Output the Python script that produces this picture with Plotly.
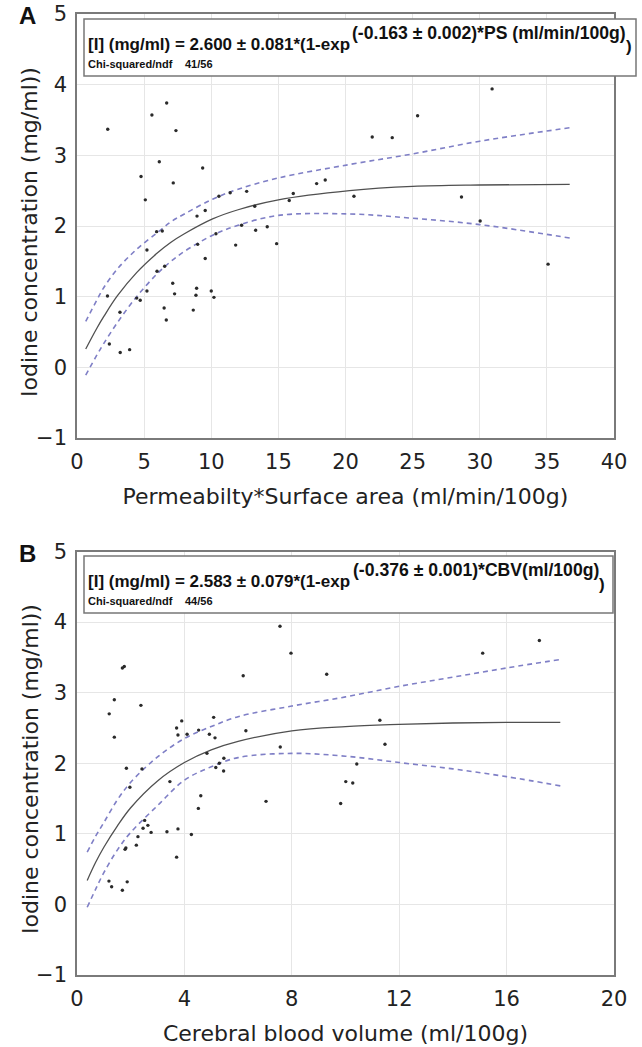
import plotly.graph_objects as go

# ---------------- Panel A data ----------------
ps_x = [2.29, 6.68, 5.58, 7.37, 6.13, 9.36, 4.77, 7.17, 5.09, 10.57, 11.41, 12.64, 13.24, 15.81, 16.11,
        17.85, 18.49, 8.94, 9.55, 5.93, 6.35, 12.26, 13.31, 14.17, 10.35, 8.99, 11.82, 14.87, 5.21, 9.55,
        6.53, 5.96, 7.13, 7.27, 8.91, 8.86, 10.0, 10.2, 5.21, 2.27, 4.45, 4.71, 6.49, 8.66, 6.65, 3.20,
        2.41, 3.22, 3.92, 21.99, 23.48, 25.37, 30.92, 20.63, 28.64, 30.03, 35.09]
ps_iodine = [3.37, 3.74, 3.57, 3.35, 2.91, 2.82, 2.70, 2.61, 2.37, 2.42, 2.47, 2.49, 2.28, 2.36, 2.46,
             2.60, 2.65, 2.14, 2.22, 1.92, 1.93, 2.01, 1.94, 1.99, 1.89, 1.74, 1.73, 1.75, 1.66, 1.54,
             1.43, 1.36, 1.19, 1.04, 1.12, 1.02, 1.08, 0.99, 1.08, 1.01, 0.98, 0.95, 0.84, 0.81, 0.67, 0.78,
             0.33, 0.21, 0.25, 3.26, 3.25, 3.56, 3.94, 2.42, 2.41, 2.07, 1.46]
fitA_x = [0.65, 1.5, 2, 3, 4.44, 6, 7, 8, 10.1, 12, 15, 20.3, 25, 30, 36.7]
fitA_y = [0.26, 0.56, 0.72, 1.01, 1.34, 1.62, 1.77, 1.89, 2.10, 2.23, 2.37, 2.50, 2.56, 2.58, 2.59]
upA_y = [0.65, 0.96, 1.13, 1.39, 1.67, 1.91, 2.06, 2.17, 2.38, 2.52, 2.68, 2.87, 3.02, 3.20, 3.39]
loA_y = [-0.11, 0.18, 0.34, 0.63, 1.00, 1.33, 1.50, 1.64, 1.87, 2.01, 2.15, 2.17, 2.11, 2.02, 1.83]

# ---------------- Panel B data ----------------
cbv_x = [7.56, 7.97, 6.19, 9.30, 1.69, 1.76, 1.39, 2.38, 1.20, 1.39, 3.90, 3.71, 3.76, 4.10, 4.53,
         5.09, 4.93, 5.14, 6.29, 4.84, 5.47, 5.30, 5.17, 5.46, 7.57, 1.84, 2.42, 1.97, 3.46, 4.61,
         4.52, 7.04, 10.01, 9.82, 2.52, 2.64, 2.76, 2.27, 3.35, 3.76, 4.26, 2.21, 2.46, 1.82, 1.79,
         3.71, 1.19, 1.29, 1.69, 1.87, 15.11, 17.22, 11.28, 11.47, 10.42, 10.27]
cbv_iodine = [3.94, 3.56, 3.24, 3.26, 3.35, 3.37, 2.90, 2.82, 2.70, 2.37, 2.60, 2.50, 2.40, 2.41, 2.47,
              2.65, 2.41, 2.36, 2.46, 2.14, 2.07, 2.00, 1.94, 1.89, 2.23, 1.93, 1.92, 1.66, 1.74, 1.54,
              1.36, 1.46, 1.74, 1.43, 1.19, 1.12, 1.02, 0.96, 1.03, 1.07, 0.99, 0.84, 1.08, 0.80, 0.78,
              0.67, 0.33, 0.25, 0.20, 0.32, 3.56, 3.74, 2.61, 2.27, 1.99, 1.72]
fitB_x = [0.38, 0.7, 1.0, 1.5, 2.0, 3.0, 4.0, 5.0, 6.0, 8.0, 10.0, 12.0, 14.0, 16.0, 18.0]
fitB_y = [0.34, 0.60, 0.81, 1.11, 1.37, 1.75, 2.01, 2.19, 2.31, 2.46, 2.52, 2.55, 2.57, 2.58, 2.58]
upB_y = [0.74, 0.97, 1.16, 1.48, 1.73, 2.09, 2.35, 2.52, 2.66, 2.81, 2.94, 3.09, 3.22, 3.35, 3.47]
loB_y = [-0.04, 0.22, 0.45, 0.77, 1.02, 1.40, 1.76, 1.95, 2.08, 2.14, 2.10, 2.01, 1.92, 1.81, 1.68]

xticksA = [0, 5, 10, 15, 20, 25, 30, 35, 40]
xticksB = [0, 4, 8, 12, 16, 20]
yticks = [-1, 0, 1, 2, 3, 4, 5]

W, H = 642, 1047
ML, MR, MT, MB = 77, 28, 14, 72
PW, PH = W - ML - MR, H - MT - MB


def px(x):  # page pixel -> paper fraction
    return (x - ML) / PW


def py(y):
    return (H - MB - y) / PH


DOT = dict(color="#2a2a2a", size=3.4)
FIT = dict(color="#505050", width=1.3)
BAND = dict(color="#7f7fc6", width=1.6, dash="5px,4px")

fig = go.Figure()
for xs, ys, fx, fy, uy, ly, xa, ya in [
    (ps_x, ps_iodine, fitA_x, fitA_y, upA_y, loA_y, "x", "y"),
    (cbv_x, cbv_iodine, fitB_x, fitB_y, upB_y, loB_y, "x2", "y2"),
]:
    fig.add_trace(go.Scatter(x=fx, y=uy, mode="lines", line=BAND, line_shape="spline",
                             xaxis=xa, yaxis=ya, showlegend=False))
    fig.add_trace(go.Scatter(x=fx, y=ly, mode="lines", line=BAND, line_shape="spline",
                             xaxis=xa, yaxis=ya, showlegend=False))
    fig.add_trace(go.Scatter(x=fx, y=fy, mode="lines", line=FIT, line_shape="spline",
                             xaxis=xa, yaxis=ya, showlegend=False))
    fig.add_trace(go.Scatter(x=xs, y=ys, mode="markers", marker=DOT,
                             xaxis=xa, yaxis=ya, showlegend=False))

TICKF = dict(family="DejaVu Sans", size=21, color="#222222")
TITLEF = dict(family="DejaVu Sans", size=22, color="#222222")
axis_common = dict(showgrid=True, gridcolor="#e6e6e6", gridwidth=1, zeroline=False,
                   showline=True, linecolor="#7a7a7a", linewidth=1.5, mirror=True,
                   ticks="outside", ticklen=4, tickcolor="rgba(0,0,0,0)", tickfont=TICKF,
                   automargin=False)

domA = [py(438), 1.0]
domB = [0.0, py(551.5)]

fig.update_layout(
    width=W, height=H,
    margin=dict(l=ML, r=MR, t=MT, b=MB),
    paper_bgcolor="white", plot_bgcolor="white",
    xaxis=dict(domain=[0, 1], anchor="y", range=[0, 40], tickvals=xticksA,
               title=dict(text="Permeabilty*Surface area (ml/min/100g)", font=TITLEF, standoff=16),
               **axis_common),
    yaxis=dict(domain=domA, anchor="x", range=[-1, 5], tickvals=yticks, **axis_common),
    xaxis2=dict(domain=[0, 1], anchor="y2", range=[0, 20], tickvals=xticksB,
                title=dict(text="Cerebral blood volume (ml/100g)", font=TITLEF, standoff=16),
                **axis_common),
    yaxis2=dict(domain=domB, anchor="x2", range=[-1, 5], tickvals=yticks, **axis_common),
)

BOXF = dict(family="Liberation Sans", size=17, color="#111111")
SUPF = dict(family="Liberation Sans", size=17.6, color="#111111")
SMALLF = dict(family="Liberation Sans", size=11, color="#111111")

shapes = []
annos = []
panels = [
    dict(label="A", off=0, x1=636,
         main="<b>[I] (mg/ml) = 2.600 ± 0.081*(1-exp </b>", sup="<b>(-0.163 ± 0.002)*PS (ml/min/100g)</b>",
         supx=350, closex=624, chi="41/56"),
    dict(label="B", off=537, x1=613,
         main="<b>[I] (mg/ml) = 2.583 ± 0.079*(1-exp</b>", sup="<b>(-0.376 ± 0.001)*CBV(ml/100g)</b>",
         supx=351, closex=597, chi="44/56"),
]
for p in panels:
    o = p["off"]
    shapes.append(dict(type="rect", xref="paper", yref="paper",
                       x0=px(84), x1=px(p["x1"]), y0=py(76 + o), y1=py(19 + o),
                       line=dict(color="#777777", width=1.5), fillcolor="white", layer="above"))
    annos += [
        dict(text=p["main"], x=px(86), y=py(45 + o), xref="paper", yref="paper",
             xanchor="left", yanchor="middle", showarrow=False, font=BOXF),
        dict(text=p["sup"], x=px(p["supx"]), y=py(33 + o), xref="paper", yref="paper",
             xanchor="left", yanchor="middle", showarrow=False, font=SUPF),
        dict(text="<b>)</b>", x=px(p["closex"]), y=py(47 + o), xref="paper", yref="paper",
             xanchor="left", yanchor="middle", showarrow=False, font=BOXF),
        dict(text="<b>Chi-squared/ndf</b>", x=px(86), y=py(64 + o), xref="paper", yref="paper",
             xanchor="left", yanchor="middle", showarrow=False, font=SMALLF),
        dict(text="<b>" + p["chi"] + "</b>", x=px(183), y=py(64 + o), xref="paper", yref="paper",
             xanchor="left", yanchor="middle", showarrow=False, font=SMALLF),
        dict(text="<b>" + p["label"] + "</b>", x=px(27), y=py(16 + o), xref="paper", yref="paper",
             xanchor="center", yanchor="middle", showarrow=False,
             font=dict(family="Liberation Sans", size=24, color="#111111")),
        dict(text="Iodine concentration (mg/ml))", x=px(30), y=py(232 + o), xref="paper", yref="paper",
             xanchor="center", yanchor="middle", textangle=-90, showarrow=False, font=TITLEF),
    ]

fig.update_layout(shapes=shapes, annotations=annos)
# remove the browser's default 8px body margin so the figure starts at the page corner
fig.write_html("out.html", config={"displayModeBar": False},
               post_script="document.body.style.margin='0px';")
